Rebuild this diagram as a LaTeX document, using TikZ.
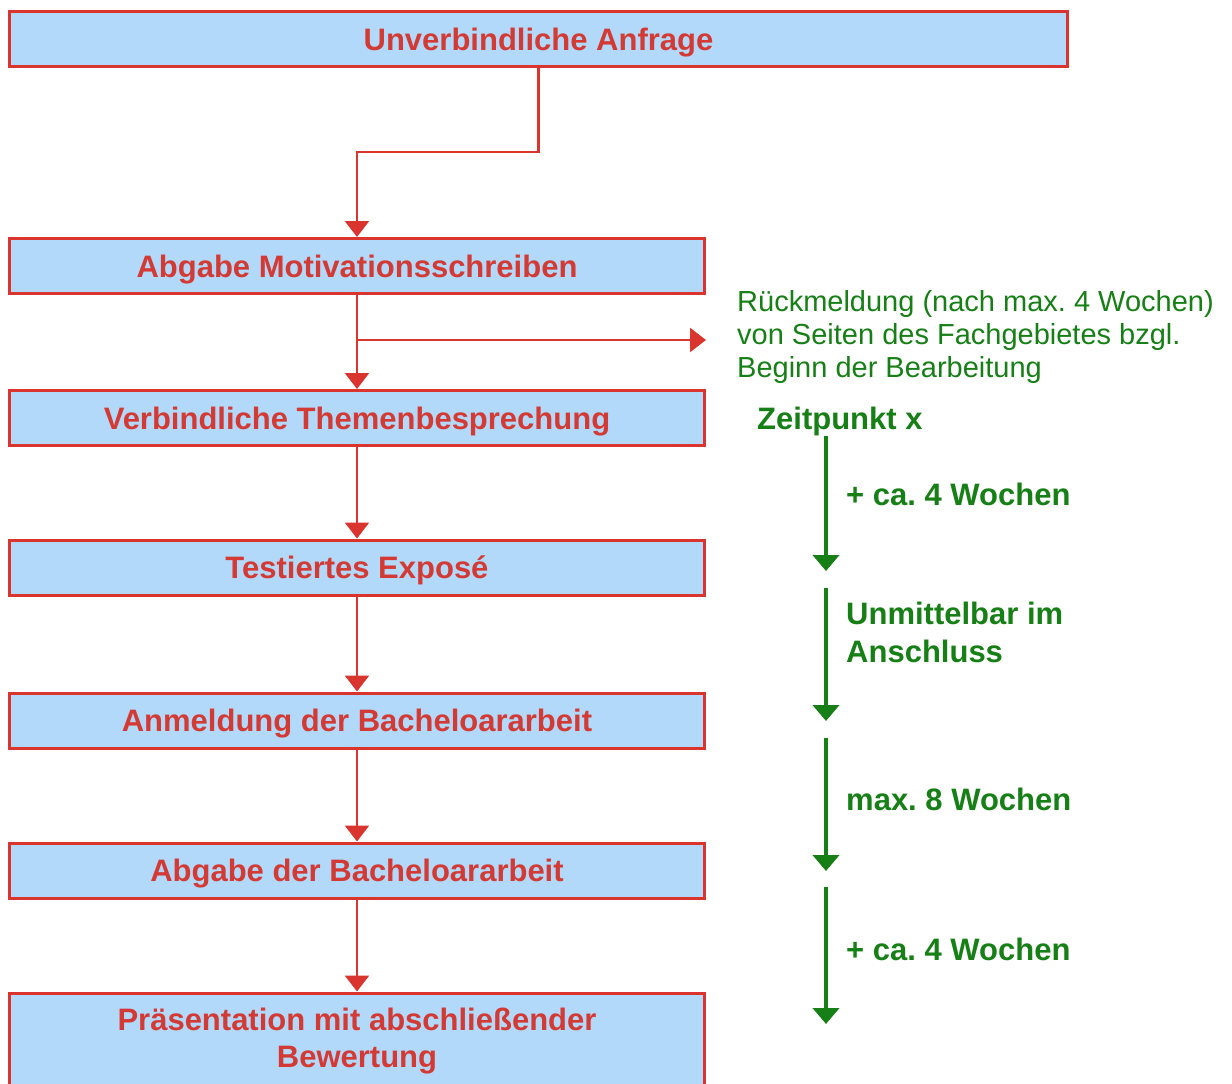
\documentclass[tikz,border=0pt]{standalone}
\usepackage{fontspec}
\setmainfont{Liberation Sans}
\usetikzlibrary{arrows.meta}
\definecolor{boxblue}{RGB}{178,216,250}
\definecolor{boxred}{RGB}{218,52,46}
\definecolor{txtred}{RGB}{212,58,52}
\definecolor{grn}{RGB}{22,128,22}
\begin{document}
\frenchspacing
\begin{tikzpicture}[x=1pt,y=-1pt,
  box/.style={draw=boxred, line width=3pt, fill=boxblue, text=txtred,
    font=\fontsize{31}{37}\selectfont\bfseries, text height=22pt, text depth=0pt, inner sep=0pt},
  rtext/.style={text=txtred, font=\fontsize{31}{37}\selectfont\bfseries, inner sep=0pt, anchor=base},
  rarrow/.style={draw=boxred, line width=2.5pt, -{Triangle[length=16pt,width=24pt]}},
  garrow/.style={draw=grn, line width=4pt, -{Triangle[length=16pt,width=26pt]}},
  gbold/.style={text=grn, font=\fontsize{31}{37}\selectfont\bfseries, anchor=base west, inner sep=0pt},
  gnorm/.style={text=grn, font=\fontsize{29}{33}\selectfont, anchor=base west, inner sep=0pt}]
\useasboundingbox (0,0) rectangle (1232,1084);
\clip (0,0) rectangle (1232,1084);
\fill[white] (0,0) rectangle (1232,1084);

% boxes
\node[box, minimum width=1058pt, minimum height=55pt] (b1) at (538.5,39) {Unverbindliche Anfrage};
\node[box, minimum width=695pt, minimum height=55pt] (b2) at (357,266) {Abgabe Motivationsschreiben};
\node[box, minimum width=695pt, minimum height=55pt] (b3) at (357,418) {Verbindliche Themenbesprechung};
\node[box, minimum width=695pt, minimum height=55pt] (b4) at (357,567.5) {Testiertes Exposé};
\node[box, minimum width=695pt, minimum height=55pt] (b5) at (357,720.5) {Anmeldung der Bacheloararbeit};
\node[box, minimum width=695pt, minimum height=55pt] (b6) at (357,870.5) {Abgabe der Bacheloararbeit};
\node[box, minimum width=695pt, minimum height=110pt, anchor=north] (b7) at (357,991.5) {};
\node[rtext] (t7a) at (357,1030) {Präsentation mit abschließender};
\node[rtext] (t7b) at (357,1067) {Bewertung};

% red connectors
\coordinate (k1) at (538.5,152);
\draw[rarrow] (b1.south) -- (k1) -| (b2.north);
\draw[rarrow] (b2) -- (b3);
\draw[rarrow] (b3) -- (b4);
\draw[rarrow] (b4) -- (b5);
\draw[rarrow] (b5) -- (b6);
\draw[rarrow] (b6) -- (b7);
\coordinate (br) at (357,340);
\coordinate (brend) at (706,340);
\draw[rarrow] (br) -- (brend);

% green texts
\node[gnorm] (rm1) at (737,311.5) {Rückmeldung (nach max. 4 Wochen)};
\node[gnorm] (rm2) at (737,344.5) {von Seiten des Fachgebietes bzgl.};
\node[gnorm] (rm3) at (737,377) {Beginn der Bearbeitung};
\node[gbold] (zp) at (757,429) {Zeitpunkt x};
\node[gbold] (l1) at (846,505) {+ ca. 4 Wochen};
\node[gbold] (l2a) at (846,624) {Unmittelbar im};
\node[gbold] (l2b) at (846,662) {Anschluss};
\node[gbold] (l3) at (846,810) {max. 8 Wochen};
\node[gbold] (l4) at (846,960) {+ ca. 4 Wochen};

% green arrows
\coordinate (ga1) at (826,436);
\coordinate (ga2) at (826,571);
\coordinate (ga3) at (826,588);
\coordinate (ga4) at (826,721);
\coordinate (ga5) at (826,738);
\coordinate (ga6) at (826,871);
\coordinate (ga7) at (826,887);
\coordinate (ga8) at (826,1024);
\draw[garrow] (ga1) -- (ga2);
\draw[garrow] (ga3) -- (ga4);
\draw[garrow] (ga5) -- (ga6);
\draw[garrow] (ga7) -- (ga8);
\end{tikzpicture}
\end{document}
